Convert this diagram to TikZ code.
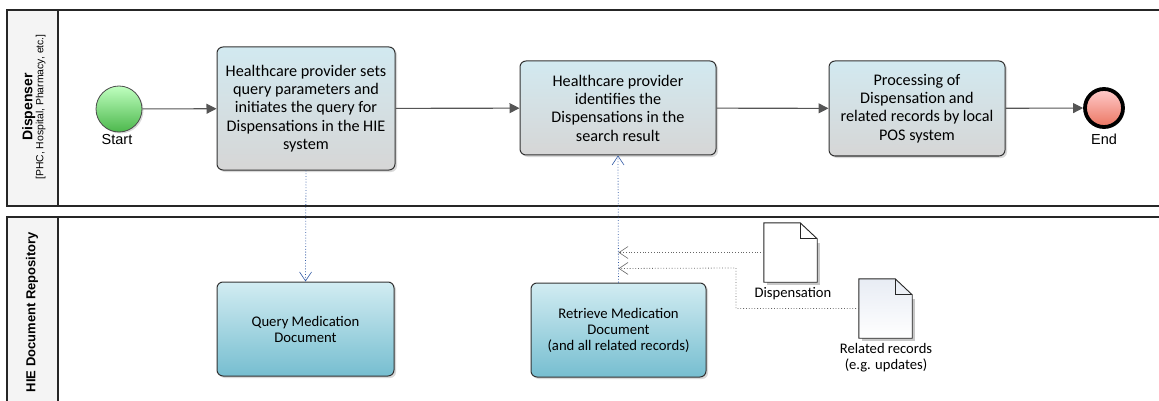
\documentclass[tikz,border=0pt]{standalone}
\usepackage{fontspec}
\setmainfont{Carlito}
\newfontfamily\arialfont{Liberation Sans}
\usetikzlibrary{arrows.meta,shadows,calc}

\definecolor{taskTop}{RGB}{210,233,240}
\definecolor{taskBot}{RGB}{214,214,214}
\definecolor{repoTop}{RGB}{210,236,242}
\definecolor{repoBot}{RGB}{118,190,208}
\definecolor{flowGray}{RGB}{85,85,85}
\definecolor{msgBlue}{RGB}{50,90,165}
\definecolor{poolBand}{RGB}{244,244,244}
\definecolor{docTop}{RGB}{232,236,244}

\tikzset{
  pool/.style={draw=black!85, line width=1.1pt},
  task/.style={draw=black!80, line width=1pt, rounded corners=6pt,
    top color=taskTop, bottom color=taskBot, align=center,
    font=\fontsize{16.2}{18.3}\selectfont,
    drop shadow={shadow xshift=2pt, shadow yshift=-2pt, opacity=.3}},
  repotask/.style={task, top color=repoTop, bottom color=repoBot,
    font=\fontsize{14.7}{16}\selectfont},
  startevent/.style={circle, draw=black!70, line width=0.8pt, minimum size=46pt,
    inner sep=0pt, top color=green!25, bottom color=green!60!black!70,
    drop shadow={shadow xshift=1.5pt, shadow yshift=-1.5pt, opacity=.3}},
  endevent/.style={circle, draw=black, line width=3.8pt, minimum size=38pt,
    inner sep=0pt, top color=red!20, bottom color=red!55!brown!70,
    drop shadow={shadow xshift=1.5pt, shadow yshift=-1.5pt, opacity=.3}},
  evlabel/.style={font=\arialfont\fontsize{14.5}{16}\selectfont},
  doc/.style={minimum width=53pt, minimum height=59pt, inner sep=0pt},
  docline/.style={draw=black!85, line width=0.9pt},
  doclabel/.style={align=center, font=\fontsize{14.6}{16}\selectfont},
  flow/.style={draw=flowGray, line width=1.1pt, -{Triangle[length=10pt,width=10pt]}},
  msg/.style={draw=msgBlue, line width=0.8pt, dotted,
    -{Straight Barb[length=9pt,width=12pt,line width=0.6pt]}},
  assoc/.style={draw=black!60, line width=0.8pt, dotted,
    -{Straight Barb[length=9pt,width=12pt,line width=0.6pt]}}
}

\begin{document}
\begin{tikzpicture}[x=1pt, y=-1pt]
  \useasboundingbox (0,0) rectangle (1159,401);
  \clip (0,0) rectangle (1159,401);

  % pools
  \fill[poolBand] (7,10) rectangle (58,206);
  \fill[poolBand] (7,217) rectangle (58,410);
  \draw[pool] (7,10) rectangle (1170,206);
  \draw[pool] (58,10) -- (58,206);
  \draw[pool] (7,217) rectangle (1170,410);
  \draw[pool] (58,217) -- (58,410);
  \node[rotate=90, align=center] (dispenser) at (34,107)
    {{\arialfont\bfseries\fontsize{14}{15}\selectfont Dispenser}\\[-1pt]
     {\arialfont\fontsize{10.4}{13}\selectfont [PHC, Hospital, Pharmacy, etc.]}};
  \node[rotate=90, font=\arialfont\bfseries\fontsize{13}{15}\selectfont] (repo) at (32,312)
    {HIE Document Repository};

  % dispenser lane
  \node[startevent] (start) at (119,109) {};
  \node[evlabel] (startlbl) at (117,140) {Start};
  \node[task, minimum width=178pt, minimum height=123pt] (setquery) at (306,108.5)
    {Healthcare provider sets\\query parameters and\\initiates the query for\\Dispensations in the HIE\\system};
  \node[task, minimum width=196pt, minimum height=94pt] (identify) at (618,108)
    {Healthcare provider\\identifies the\\Dispensations in the\\search result};
  \node[task, minimum width=176pt, minimum height=95pt] (process) at (917,108.5)
    {Processing of\\Dispensation and\\related records by local\\POS system};
  \node[endevent] (end) at (1104,108) {};
  \node[evlabel] (endlbl) at (1104,139) {End};

  % repository lane
  \node[repotask, minimum width=177pt, minimum height=94pt] (querymed) at (305.5,329)
    {Query Medication\\Document};
  \node[repotask, minimum width=175pt, minimum height=94pt] (retrieve) at (618.5,330)
    {Retrieve Medication\\Document\\(and all related records)};

  % documents
  \node[doc] (disp) at (790.5,252.5) {};
  \node[doc] (rel) at (885.5,308.5) {};
  \foreach \d/\f in {disp/white, rel/docTop} {
    \fill[black, opacity=.22] ($(\d.south west)+(3,3)$) rectangle ($(\d.north east)+(3,20)$);
    \draw[docline, top color=\f, bottom color=white]
      (\d.south west) -- (\d.north west) -- ($(\d.north east)+(-17,0)$)
      -- ($(\d.north east)+(0,16)$) -- (\d.south east) -- cycle;
    \draw[docline] ($(\d.north east)+(-17,0)$) |- ($(\d.north east)+(0,16)$);
  }
  \node[doclabel] (displbl) at (793,294) {Dispensation};
  \node[doclabel] (rellbl) at (886,358) {Related records\\(e.g. updates)};

  % sequence flows
  \draw[flow] (start) -- (setquery);
  \draw[flow] (setquery) -- (identify);
  \draw[flow] (identify) -- (process);
  \draw[flow] (process) -- (end);

  % message flows
  \draw[msg] (setquery.south) -- (querymed.north);
  \draw[msg] (retrieve.north) -- (identify.south);

  % associations
  \coordinate (dispin) at (retrieve.north |- disp.west);
  \coordinate (relin) at ($(retrieve.north |- disp.west)+(0,16)$);
  \draw[assoc] (disp.west) -- (dispin);
  \draw[assoc] (rel.west) -| (736,268) -- (relin);
\end{tikzpicture}
\end{document}
